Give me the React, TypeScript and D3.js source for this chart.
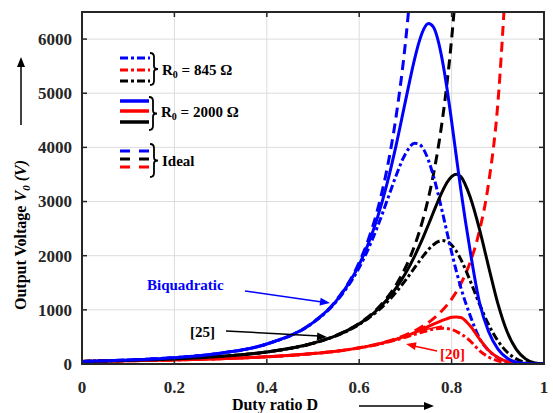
import React from "react";
import * as d3 from "d3";

// Duty ratio samples
const duty = [0, 0.1, 0.2, 0.3, 0.4, 0.5, 0.55, 0.6, 0.62, 0.64, 0.66, 0.68, 0.7, 0.72, 0.73, 0.74, 0.75, 0.76, 0.78, 0.79, 0.8, 0.81, 0.82, 0.84, 0.86, 0.88, 0.9, 0.92, 0.94, 0.96, 0.98, 1];

// Biquadratic (blue)
const biqR2000 = [48, 73, 117, 200, 370, 765, 1161, 1834, 2228, 2717, 3321, 4042, 4850, 5636, 5958, 6189, 6286, 6228, 5606, 5088, 4484, 3846, 3216, 2099, 1150, 600, 280, 110, 35, 10, 1, 0];
const biqR845 = [48, 73, 117, 199, 368, 761, 1148, 1781, 2132, 2544, 3008, 3482, 3880, 4076, 4059, 3954, 3760, 3492, 2806, 2432, 2066, 1723, 1411, 898, 480, 250, 120, 48, 18, 4, 0.5, 0];
const biqIdeal = [48, 73.2, 117.2, 200, 370, 768, 1171, 1875, 2302, 2858, 3592, 4578, 5926, 7809, null, null, null, null, null, null, null, null, null, null, null, null, null, null, null, null, null, null];

// [25] (black)
const ref25R2000 = [48, 65.8, 93.7, 140, 222, 383, 524, 741, 862, 1007, 1185, 1404, 1670, 1993, 2175, 2371, 2577, 2788, 3188, 3351, 3462, 3504, 3460, 3087, 2500, 1800, 1120, 600, 270, 95, 20, 0];
const ref25R845 = [48, 65.8, 93.7, 140, 222, 381, 520, 730, 844, 979, 1139, 1328, 1543, 1778, 1896, 2010, 2113, 2197, 2280, 2261, 2197, 2086, 1933, 1542, 1113, 729, 429, 221, 94, 28, 3, 0];
const ref25Ideal = [48, 65.8, 93.75, 140, 222, 384, 527, 750, 875, 1029, 1221, 1465, 1778, 2187, 2439, 2731, 3072, 3472, 4508, 5183, 6000, 6998, null, null, null, null, null, null, null, null, null, null];

// [20] (red)
const ref20R2000 = [48, 59.3, 75, 98, 133, 192, 236, 298, 330, 366, 408, 458, 515, 581, 617, 655, 694, 733, 807, 835, 862, 870, 860, 705, 470, 255, 120, 45, 14, 3, 0.5, 0];
const ref20R845 = [48, 59.3, 75, 98, 133, 191, 235, 296, 326, 361, 400, 445, 495, 548, 574, 600, 623, 643, 661, 655, 636, 603, 556, 428, 250, 130, 60, 22, 6, 1, 0, 0];
const ref20Ideal = [48, 59.3, 75, 98, 133, 192, 237, 300, 332, 370, 415, 469, 533, 612, 658, 710, 768, 833, 992, 1088, 1200, 1330, 1481, 1875, 2449, 3333, 4800, 7500, null, null, null, null];

const xTicks = [0, 0.2, 0.4, 0.6, 0.8, 1];
const xTickLabels = ["0", "0.2", "0.4", "0.6", "0.8", "1"];
const yTicks = [0, 1000, 2000, 3000, 4000, 5000, 6000];

const BLUE = "#0000ff";
const RED = "#ff0000";
const BLACK = "#000000";
const FONT = "'Liberation Serif', 'Times New Roman', serif";

const L = 82, R = 544, T = 12, B = 364;

function arrowHead(x1: number, y1: number, x2: number, y2: number, len = 10, wid = 4) {
  const a = Math.atan2(y2 - y1, x2 - x1);
  const bx = x2 - len * Math.cos(a), by = y2 - len * Math.sin(a);
  const px = -Math.sin(a) * wid, py = Math.cos(a) * wid;
  return `${x2},${y2} ${bx + px},${by + py} ${bx - px},${by - py}`;
}

function brace(x0: number, y0: number, y1: number) {
  const ym = (y0 + y1) / 2;
  return `M${x0},${y0} Q${x0 + 4},${y0} ${x0 + 4},${y0 + 4} L${x0 + 4},${ym - 3} Q${x0 + 4},${ym} ${x0 + 8},${ym} Q${x0 + 4},${ym} ${x0 + 4},${ym + 3} L${x0 + 4},${y1 - 4} Q${x0 + 4},${y1} ${x0},${y1}`;
}

export default function App() {
  const x = d3.scaleLinear().domain([0, 1]).range([L, R]);
  const y = d3.scaleLinear().domain([0, 6500]).range([B, T]);
  const line = d3
    .line<number | null>()
    .defined((d) => d !== null)
    .x((_, i) => x(duty[i]))
    .y((d) => y(d as number))
    .curve(d3.curveMonotoneX);

  const DASH = "10,6";
  const DASHDOT = "8,3,3,3";

  const series = [
    { v: ref20Ideal, c: RED, dash: DASH },
    { v: ref25Ideal, c: BLACK, dash: DASH },
    { v: biqIdeal, c: BLUE, dash: DASH },
    { v: ref20R845, c: RED, dash: DASHDOT },
    { v: ref25R845, c: BLACK, dash: DASHDOT },
    { v: biqR845, c: BLUE, dash: DASHDOT },
    { v: ref20R2000, c: RED, dash: null },
    { v: ref25R2000, c: BLACK, dash: null },
    { v: biqR2000, c: BLUE, dash: null },
  ];

  return (
    <svg width={553} height={413} style={{ position: "absolute", left: 0, top: 0, background: "#fff" }} fontFamily={FONT}>
      <defs>
        <clipPath id="plot">
          <rect x={L} y={T} width={R - L} height={B - T} />
        </clipPath>
      </defs>
      <rect x={0} y={0} width={553} height={413} fill="#fff" />
      {/* grid */}
      {xTicks.slice(1, -1).map((t) => (
        <line key={"gx" + t} x1={x(t)} x2={x(t)} y1={T} y2={B} stroke="#dcdcdc" strokeWidth={1} />
      ))}
      {yTicks.slice(1).map((t) => (
        <line key={"gy" + t} x1={L} x2={R} y1={y(t)} y2={y(t)} stroke="#dcdcdc" strokeWidth={1} />
      ))}
      {/* curves */}
      <g clipPath="url(#plot)">
        {series.map((s, i) => (
          <path key={i} d={line(s.v) || ""} fill="none" stroke={s.c} strokeWidth={3} strokeDasharray={s.dash || undefined} />
        ))}
      </g>
      {/* ticks */}
      {xTicks.map((t) => (
        <g key={"tx" + t}>
          <line x1={x(t)} x2={x(t)} y1={B} y2={B - 5} stroke="#262626" strokeWidth={1.5} />
          <line x1={x(t)} x2={x(t)} y1={T} y2={T + 5} stroke="#262626" strokeWidth={1.5} />
        </g>
      ))}
      {yTicks.map((t) => (
        <g key={"ty" + t}>
          <line x1={L} x2={L + 5} y1={y(t)} y2={y(t)} stroke="#262626" strokeWidth={1.5} />
          <line x1={R} x2={R - 5} y1={y(t)} y2={y(t)} stroke="#262626" strokeWidth={1.5} />
        </g>
      ))}
      <rect x={L} y={T} width={R - L} height={B - T} fill="none" stroke="#262626" strokeWidth={2} />
      {/* tick labels */}
      {xTicks.map((t, i) => (
        <text key={"lx" + t} x={x(t)} y={393} textAnchor="middle" fontSize={17} fontWeight="bold" fill="#262626">
          {xTickLabels[i]}
        </text>
      ))}
      {yTicks.map((t) => (
        <text key={"ly" + t} x={72} y={y(t)} dy="0.35em" textAnchor="end" fontSize={17} fontWeight="bold" fill="#262626">
          {t}
        </text>
      ))}
      {/* x label */}
      <text x={275} y={410} textAnchor="middle" fontSize={16} fontWeight="bold" fill="#000">Duty ratio D</text>
      <line x1={359} x2={425} y1={406} y2={406} stroke="#000" strokeWidth={1.5} />
      <polygon points={arrowHead(359, 406, 434, 406, 10, 4)} fill="#000" />
      {/* y label */}
      <g transform="translate(26,0) rotate(-90)">
        <text x={-310} y={0} textAnchor="start" fontSize={16} fontWeight="bold" fill="#000">
          Output Voltage{"  "}
          <tspan fontStyle="italic">V</tspan>
          <tspan fontStyle="italic" fontSize={11} dy={4}>0</tspan>
          <tspan fontStyle="italic" dy={-4}> (V)</tspan>
        </text>
        <line x1={-125} x2={-66} y1={-5} y2={-5} stroke="#000" strokeWidth={1.5} />
        <polygon points={arrowHead(-125, -5, -57, -5, 10, 4)} fill="#000" />
      </g>
      {/* legend */}
      <g>
        <line x1={120} x2={150} y1={58} y2={58} stroke={BLUE} strokeWidth={3} strokeDasharray={DASHDOT} />
        <line x1={120} x2={150} y1={70} y2={70} stroke={RED} strokeWidth={3} strokeDasharray={DASHDOT} />
        <line x1={120} x2={150} y1={81} y2={81} stroke={BLACK} strokeWidth={3} strokeDasharray={DASHDOT} />
        <path d={brace(150, 53, 85)} fill="none" stroke="#000" strokeWidth={1.8} />
        <text x={162} y={75} fontSize={15} fontWeight="bold">
          R<tspan fontSize={10} dy={3}>0</tspan><tspan dy={-3}> = 845 Ω</tspan>
        </text>
        <line x1={120} x2={149} y1={101} y2={101} stroke={BLUE} strokeWidth={3.5} />
        <line x1={120} x2={149} y1={111} y2={111} stroke={RED} strokeWidth={3.5} />
        <line x1={120} x2={149} y1={122} y2={122} stroke={BLACK} strokeWidth={3.5} />
        <path d={brace(149, 97, 130)} fill="none" stroke="#000" strokeWidth={1.8} />
        <text x={161} y={117} fontSize={15} fontWeight="bold">
          R<tspan fontSize={10} dy={3}>0</tspan><tspan dy={-3}> = 2000 Ω</tspan>
        </text>
        <line x1={120} x2={149} y1={151} y2={151} stroke={BLUE} strokeWidth={3} strokeDasharray="10,9" />
        <line x1={120} x2={149} y1={159} y2={159} stroke={BLACK} strokeWidth={3} strokeDasharray="10,9" />
        <line x1={120} x2={149} y1={167} y2={167} stroke={RED} strokeWidth={3} strokeDasharray="10,9" />
        <path d={brace(150, 144, 177)} fill="none" stroke="#000" strokeWidth={1.8} />
        <text x={162} y={166} fontSize={15} fontWeight="bold">Ideal</text>
      </g>
      {/* annotations */}
      <text x={147} y={290} fontSize={15} fontWeight="bold" fill={BLUE}>Biquadratic</text>
      <line x1={245} y1={291} x2={322} y2={302} stroke={BLUE} strokeWidth={1.5} />
      <polygon points={arrowHead(245, 291, 330, 303, 10, 4)} fill={BLUE} />
      <text x={190} y={337} fontSize={15} fontWeight="bold" fill={BLACK}>[25]</text>
      <line x1={226} y1={331} x2={319} y2={336} stroke={BLACK} strokeWidth={1.5} />
      <polygon points={arrowHead(226, 331, 327, 337, 10, 4)} fill={BLACK} />
      <text x={440} y={359} fontSize={15} fontWeight="bold" fill={RED}>[20]</text>
      <line x1={437} y1={351} x2={414} y2={346} stroke={RED} strokeWidth={1.5} />
      <polygon points={arrowHead(437, 351, 406, 344, 10, 4)} fill={RED} />
      <line x1={442} y1={326} x2={424} y2={330} stroke={RED} strokeWidth={1.5} />
      <polygon points={arrowHead(442, 326, 416, 331, 10, 4)} fill={RED} />
    </svg>
  );
}
